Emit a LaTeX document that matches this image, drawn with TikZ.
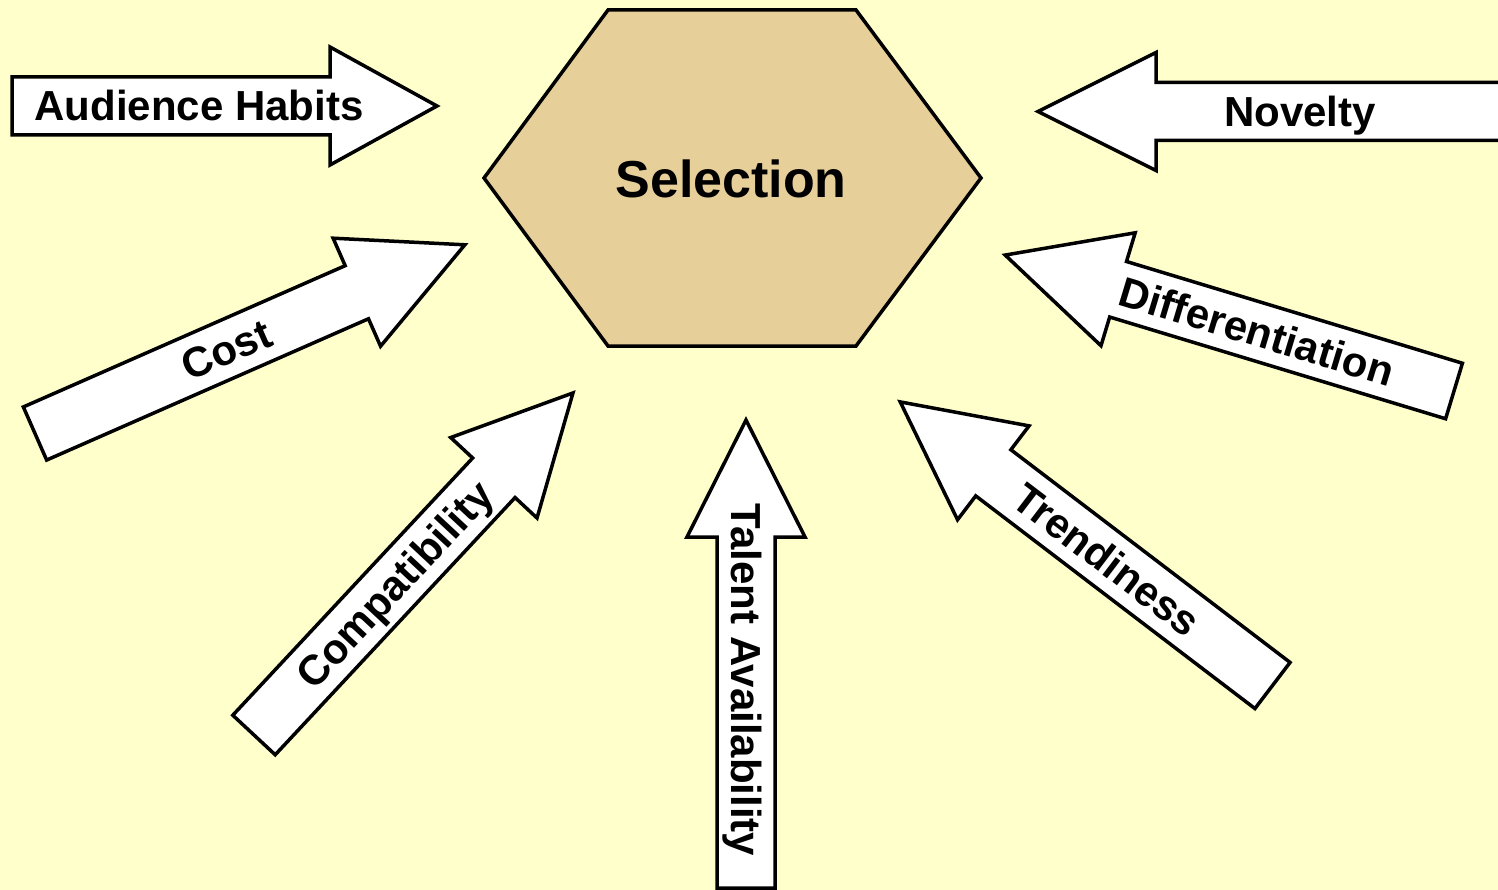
\documentclass[tikz,border=0pt]{standalone}
\usepackage{fontspec}
\setmainfont{Liberation Sans}
\definecolor{bgyellow}{HTML}{FFFFCC}
\definecolor{hexfill}{HTML}{E7CF99}
\tikzset{
  arrowbox/.style={draw=black, fill=white, line width=3.5pt, line join=miter},
  hexbox/.style={draw=black, fill=hexfill, line width=3.5pt, line join=miter},
  lbl/.style={inner sep=0pt, text height=30pt, text depth=0pt, font=\fontsize{42}{48}\selectfont\bfseries},
  mainlbl/.style={inner sep=0pt, text height=37.2pt, text depth=0pt, font=\fontsize{52}{60}\selectfont\bfseries}
}
% #1 name, #2 tail, #3 angle, #4 length, #5 head length, #6 text, #7 text position along axis, #8 text rotation
\newcommand\blockarrow[8]{%
  \begin{scope}[shift={#2},rotate=#3]
    \draw[arrowbox] (0,-29) -- ({#4-#5},-29) -- ({#4-#5},-59) -- (#4,0) -- ({#4-#5},59) -- ({#4-#5},29) -- (0,29) -- cycle;
    \coordinate (#1tail) at (0,0);
    \coordinate (#1tip) at (#4,0);
    \node[lbl, rotate=#8] (#1) at (#7,0) {#6};
  \end{scope}}
\begin{document}
\begin{tikzpicture}[x=1pt,y=-1pt]
  \fill[bgyellow] (0,0) rectangle (1498,890);
  \useasboundingbox (0,0) rectangle (1498,890);
  % central hexagon
  \draw[hexbox] (608,10) -- (856,10) -- (981,178) -- (856,346) -- (608,346) -- (484,178) -- cycle;
  \node[mainlbl] (selection) at (731,179) {Selection};
  % arrows
  \blockarrow{audience}{(12,106)}{0}{425}{107}{Audience Habits}{187}{0}
  \blockarrow{novelty}{(1515,111.5)}{180}{477}{118}{Novelty}{215}{0}
  \blockarrow{cost}{(35,433.5)}{23.7}{469.5}{118}{Cost}{209}{23.7}
  \blockarrow{compat}{(254,735)}{47}{467.7}{116}{Compatibility}{206}{47}
  \blockarrow{talent}{(746,888)}{90}{468}{117}{Talent Availability}{208}{-90}
  \blockarrow{trend}{(1272.5,685.5)}{142.7}{468}{117}{Trendiness}{208}{-37.3}
  \blockarrow{diff}{(1454,391)}{163.15}{469}{118}{Differentiation}{206}{-16.85}
\end{tikzpicture}
\end{document}
